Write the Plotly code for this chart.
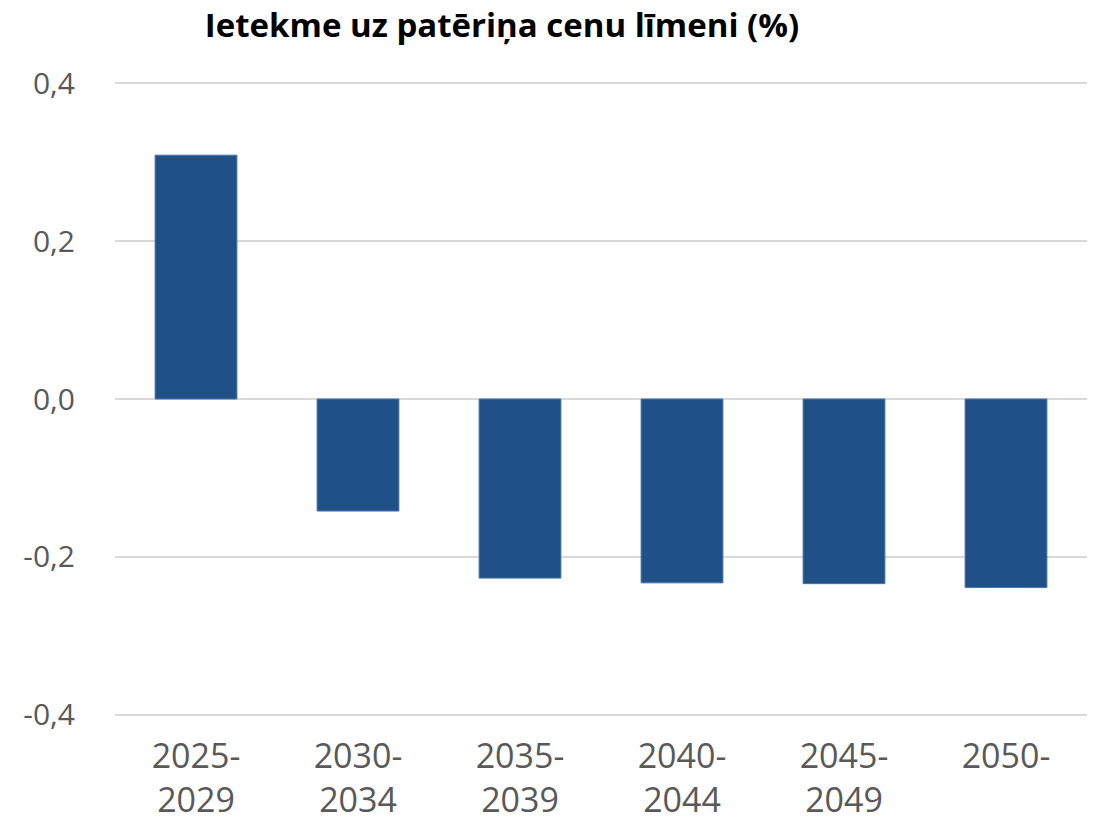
import plotly.graph_objects as go

categories = ["2025-<br>2029", "2030-<br>2034", "2035-<br>2039", "2040-<br>2044", "2045-<br>2049", "2050-"]
values = [0.309, -0.142, -0.227, -0.233, -0.234, -0.239]
y_ticks = [-0.4, -0.2, 0.0, 0.2, 0.4]
y_tick_labels = ["-0,4", "-0,2", "0,0", "0,2", "0,4"]
title_text = "Ietekme uz patēriņa cenu līmeni (%)"

# the page body adds an 8px offset, so the figure is sized to fill the rest of the window
FIG_W, FIG_H = 1088, 817

fig = go.Figure(
    go.Bar(
        x=categories,
        y=values,
        marker=dict(color="#1F5087", line=dict(color="#4A75A8", width=1)),
        width=0.505,
    )
)

fig.update_layout(
    width=FIG_W,
    height=FIG_H,
    margin=dict(l=107, r=9, t=73, b=108),
    paper_bgcolor="white",
    plot_bgcolor="white",
    showlegend=False,
    title=dict(
        text="<b>" + title_text + "</b>",
        x=494 / FIG_W,
        xanchor="center",
        y=1 - 17 / FIG_H,
        yanchor="middle",
        font=dict(family="Open Sans", size=33, color="black"),
    ),
    font=dict(family="Open Sans", size=30, color="#595959"),
)

fig.update_xaxes(
    showgrid=False,
    showline=False,
    zeroline=False,
    ticks="",
    automargin=False,
    tickfont=dict(family="Open Sans", size=34, color="#595959"),
    ticklabelstandoff=16,
)

fig.update_yaxes(
    range=[-0.403, 0.403],
    tickvals=y_ticks,
    ticktext=y_tick_labels,
    showgrid=True,
    gridcolor="#D9D9D9",
    gridwidth=2,
    zeroline=True,
    zerolinecolor="#D9D9D9",
    zerolinewidth=2,
    showline=False,
    ticks="",
    automargin=False,
    tickfont=dict(family="Open Sans", size=30, color="#595959"),
    ticklabelstandoff=39,
)

fig.write_html("out.html")
